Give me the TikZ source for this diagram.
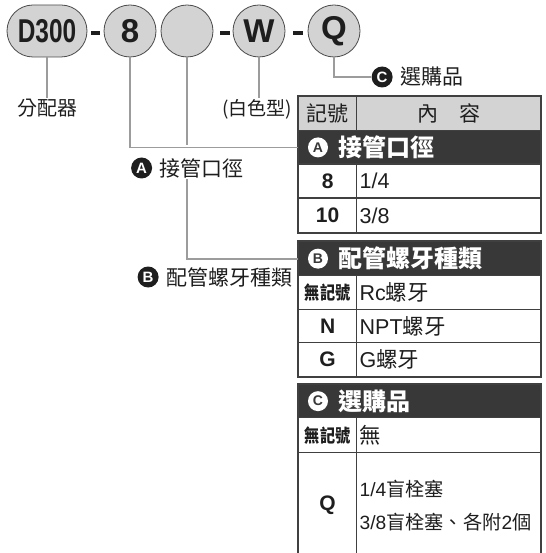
\documentclass[tikz,border=0pt]{standalone}
\usepackage{fontspec}
\setmainfont{Liberation Sans}
\newfontfamily\cjk{Noto Sans CJK TC}
\usepackage{graphicx}
\usetikzlibrary{positioning}
\definecolor{linegray}{HTML}{9C9C9C}
\definecolor{bandgray}{HTML}{383838}
\definecolor{capgray}{HTML}{D3D3D3}
\definecolor{ink}{HTML}{1E1E1E}
\newcommand{\fsz}[1]{\fontsize{#1}{#1}\selectfont}
\newcommand{\zh}[1]{{\cjk #1}}
\tikzset{
  code/.style={circle, draw=ink!80, line width=0.8pt, fill=capgray, minimum size=52pt, inner sep=0pt, text=ink, font=\bfseries\fsz{33}},
  capsule/.style={code, rectangle, rounded corners=26pt, minimum width=80pt},
  hyph/.style={rectangle, fill=ink, minimum width=9.5pt, minimum height=3.8pt, inner sep=0pt},
  conn/.style={draw=linegray, line width=1.7pt},
  lbl/.style={inner sep=1pt, text=ink, font=\cjk\fsz{21}},
  bdot/.style={circle, fill=ink, text=white, minimum size=21pt, inner sep=0pt, font=\bfseries\fsz{15}},
  wdot/.style={circle, fill=white, text=bandgray, minimum size=20pt, inner sep=0pt, font=\bfseries\fsz{14}},
  cell/.style={rectangle, draw=ink!85, line width=1.3pt, anchor=north west, inner sep=0pt, text=ink},
  keycell/.style={cell, minimum width=58pt, font=\bfseries\fsz{21}},
  valcell/.style={cell, minimum width=184pt, text width=178pt, inner xsep=3pt, align=left, font=\fsz{21.5}},
  band/.style={cell, fill=bandgray, minimum width=242pt},
  bandtxt/.style={inner sep=0pt, text=white, font=\cjk\bfseries\fsz{24}},
  frame/.style={draw=ink!85, line width=2.2pt},
}

\begin{document}
\begin{tikzpicture}[x=1pt, y=-1pt]
\useasboundingbox (0,0) rectangle (545,553);
\clip (0,0) rectangle (545,553);
    %code row
    \node[capsule] (d300) at (47,31) {\scalebox{0.74}[1]{D300}};
    \node[hyph] (h1) at (95.5,33) {};
    \node[code] (c8) at (130,31) {8};
    \node[code] (cb) at (187,31) {};
    \node[hyph] (h2) at (225,33) {};
    \node[code] (cw) at (259,31) {W};
    \node[hyph] (h3) at (298,33) {};
    \node[code] (cq) at (334,31) {Q};
    %labels
    \node[lbl, font=\cjk\fsz{20}] (lfen) at (47,108) {分配器};
    \node[lbl, font=\cjk\fsz{19}] (lwht) at (257,109) {(白色型)};
    \node[lbl] (labA) at (201.5,168) {接管口徑};
    \node[bdot, left=6pt of labA] (dotA) {A};
    \node[lbl] (labB) at (229,277) {配管螺牙種類};
    \node[bdot, left=6pt of labB] (dotB) {B};
    \node[lbl] (labC) at (431.5,77) {選購品};
    \node[bdot, left=6pt of labC] (dotC) {C};
    %table A
    \node[keycell, fill=capgray, font=\cjk\fsz{21}, minimum height=34pt] (hd1) at (298,96) {記號};
    \node[cell, fill=capgray, font=\cjk\fsz{21}, minimum width=184pt, minimum height=34pt] (hd2) at (356,96) {內　容};
    \node[band, minimum height=33.5pt] (bandA) at (298,130) {};
    \node[wdot] (wA) at ([xshift=20pt]bandA.west) {A};
    \node[bandtxt, right=10pt of wA] (tA) {接管口徑};
    \node[keycell, minimum height=34pt] (k8) at (298,163.5) {8};
    \node[valcell, minimum height=34pt] (v8) at (356,163.5) {1/4};
    \node[keycell, minimum height=34.5pt] (k10) at (298,197.5) {10};
    \node[valcell, minimum height=34.5pt] (v10) at (356,197.5) {3/8};
    \draw[frame] (hd1.north west) rectangle (v10.south east);
    %table B
    \node[band, minimum height=34pt] (bandB) at (298,241) {};
    \node[wdot] (wB) at ([xshift=20pt]bandB.west) {B};
    \node[bandtxt, right=10pt of wB] (tB) {配管螺牙種類};
    \node[keycell, font=\cjk\bfseries\fsz{18}, minimum height=33.5pt] (kRc) at (298,275) {\scalebox{0.84}[1]{無記號}};
    \node[valcell, minimum height=33.5pt] (vRc) at (356,275) {Rc\zh{螺牙}};
    \node[keycell, minimum height=33.5pt] (kN) at (298,308.5) {N};
    \node[valcell, minimum height=33.5pt] (vN) at (356,308.5) {NPT\zh{螺牙}};
    \node[keycell, minimum height=33.5pt] (kG) at (298,342) {G};
    \node[valcell, minimum height=33.5pt] (vG) at (356,342) {G\zh{螺牙}};
    \draw[frame] (bandB.north west) rectangle (vG.south east);
    %table C
    \node[band, minimum height=33pt] (bandC) at (298,384) {};
    \node[wdot] (wC) at ([xshift=20pt]bandC.west) {C};
    \node[bandtxt, right=10pt of wC] (tC) {選購品};
    \node[keycell, font=\cjk\bfseries\fsz{18}, minimum height=35pt] (kNone) at (298,417) {\scalebox{0.84}[1]{無記號}};
    \node[valcell, minimum height=35pt] (vNone) at (356,417) {\zh{無}};
    \node[keycell, minimum height=106pt] (kQ) at (298,452) {Q};
    \node[valcell, font=\fontsize{19.2}{33}\selectfont, minimum height=106pt] (vQ) at (356,452) {1/4\zh{盲栓塞}\\3/8\zh{盲栓塞、各附}2\zh{個}};
    \draw[frame] (bandC.north west) rectangle (vQ.south east);
    %connectors
    \coordinate (gapA) at ([yshift=12pt]labA.north);
    \draw[conn] (d300.south) -- (lfen.north);
    \draw[conn] (cw.south) -- (cw.south |- lwht.north);
    \draw[conn] (c8.south) |- (bandA.west);
    \draw[conn] (cb.south) -- (cb.south |- gapA);
    \draw[conn] (cb.south |- labA.south) |- (bandB.west);
    \draw[conn] (cq.south) |- (dotC.west);
\end{tikzpicture}
\end{document}
